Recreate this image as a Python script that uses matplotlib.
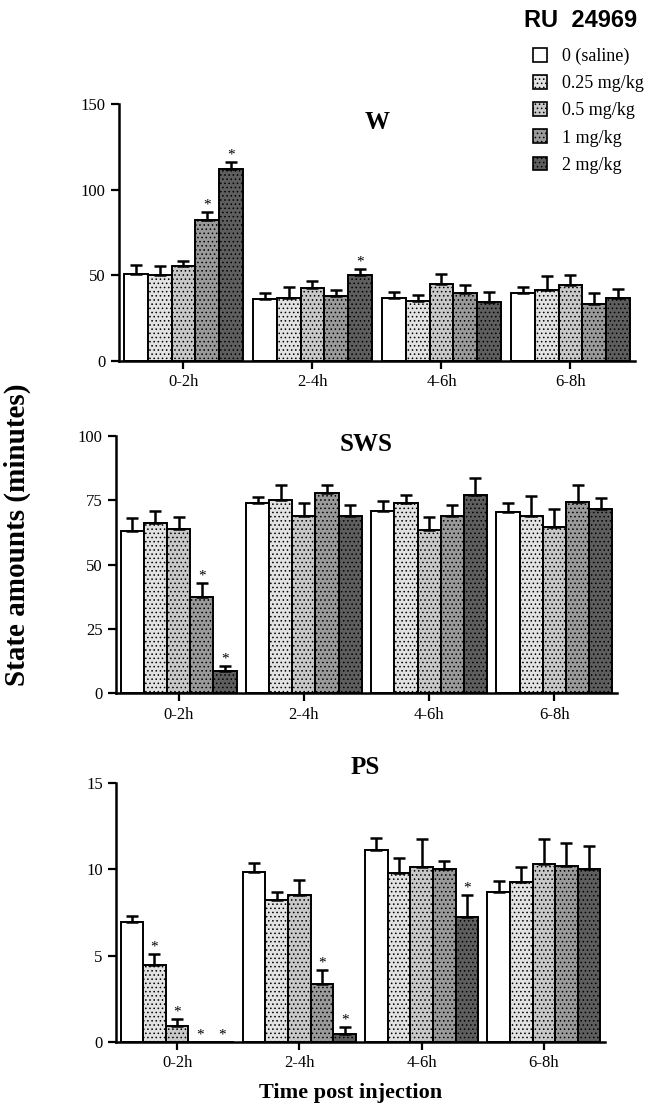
import numpy as np
import matplotlib
matplotlib.use("Agg")
import matplotlib.pyplot as plt
from matplotlib.patches import Patch

plt.rcParams["font.family"] = ["Liberation Serif", "DejaVu Serif"]
plt.rcParams["hatch.linewidth"] = 0.6

# Данные (минуты), порядок доз: 0, 0.25, 0.5, 1, 2 mg/kg
periods = ["0-2h", "2-4h", "4-6h", "6-8h"]
doses = ["0 (saline)", "0.25 mg/kg", "0.5 mg/kg", "1 mg/kg", "2 mg/kg"]

w_mean = [[51, 50, 55.5, 82.5, 112],
          [36, 37, 42.5, 38, 50],
          [37, 35, 45, 40, 34.5],
          [40, 41.5, 44.5, 33.5, 37]]
w_err = [[5, 5.5, 3, 4.5, 4],
         [3.8, 6, 4.5, 3.5, 4],
         [3.5, 3.7, 6, 4.5, 6],
         [3, 8, 6, 6, 5]]
w_sig = [[0, 0, 0, 1, 1], [0, 0, 0, 0, 1], [0, 0, 0, 0, 0], [0, 0, 0, 0, 0]]

sws_mean = [[63, 66, 64, 37.5, 8.5],
            [74, 75, 69, 78, 69],
            [71, 74, 63.5, 69, 77],
            [70.5, 69, 64.5, 74.5, 71.5]]
sws_err = [[5.3, 5, 4.5, 5.5, 2],
           [2.3, 6, 5, 2.8, 4],
           [3.6, 3.2, 5, 4, 6.5],
           [3.5, 7.5, 7, 6.5, 4.5]]
sws_sig = [[0, 0, 0, 1, 1], [0, 0, 0, 0, 0], [0, 0, 0, 0, 0], [0, 0, 0, 0, 0]]

ps_mean = [[6.95, 4.45, 0.95, 0, 0],
           [9.85, 8.25, 8.5, 3.35, 0.5],
           [11.1, 9.8, 10.15, 10, 7.25],
           [8.7, 9.25, 10.3, 10.2, 10.05]]
ps_err = [[0.35, 0.65, 0.4, 0, 0],
          [0.5, 0.45, 0.9, 0.85, 0.4],
          [0.7, 0.85, 1.6, 0.5, 1.25],
          [0.65, 0.9, 1.45, 1.35, 1.3]]
ps_sig = [[0, 1, 1, 1, 1], [0, 0, 0, 1, 1], [0, 0, 0, 0, 1], [0, 0, 0, 0, 0]]

colors = ["white", "#e2e2e2", "#c8c8c8", "#9a9a9a", "#5e5e5e"]
hatches = [None, "....", "....", "....", "...."]

fig = plt.figure(figsize=(6.52, 11.15), dpi=100)

panels = [
    ("W", w_mean, w_err, w_sig, [0.1825, 0.6762, 0.7914, 0.2305], 150, [0, 50, 100, 150], 0.93, 0.5),
    ("SWS", sws_mean, sws_err, sws_sig, [0.1779, 0.3782, 0.7684, 0.2308], 100, [0, 25, 50, 75, 100], 0.965, 0.5),
    ("PS", ps_mean, ps_err, ps_sig, [0.1779, 0.0652, 0.75, 0.2326], 15, [0, 5, 10, 15], 1.058, 0.51),
]

bw = 0.185
x = np.arange(len(periods))

for name, mean, err, sig, pos, ymax, yt, ty, tx in panels:
    ax = fig.add_axes(pos)
    mean = np.array(mean)
    err = np.array(err)
    for j in range(len(doses)):
        xs = x + (j - 2) * bw
        ax.bar(xs, mean[:, j], bw, color=colors[j], edgecolor="black",
               linewidth=1.4, hatch=hatches[j], zorder=2)
        ax.errorbar(xs, mean[:, j], yerr=[np.zeros(len(x)), err[:, j]], fmt="none",
                    ecolor="black", elinewidth=1.8, capsize=4, capthick=1.8, zorder=3)
        for i in range(len(x)):
            if sig[i][j]:
                ax.annotate("*", (xs[i], mean[i, j] + err[i, j]), xytext=(0, 5),
                            textcoords="offset points", ha="center", va="center",
                            fontsize=11)
    ax.set_xlim(-0.5, 3.5)
    ax.set_ylim(0, ymax)
    ax.set_yticks(yt)
    ax.set_xticks(x)
    ax.set_xticklabels(periods)
    for s in ["top", "right"]:
        ax.spines[s].set_visible(False)
    for s in ["left", "bottom"]:
        ax.spines[s].set_linewidth(1.8)
    ax.tick_params(axis="both", direction="out", length=6, width=1.6, labelsize=12)
    ax.text(tx, ty, name, transform=ax.transAxes, ha="center", va="center",
            fontsize=18, fontweight="bold")

fig.text(0.026, 0.52, "State amounts (minutes)", rotation=90, ha="center", va="center",
         fontsize=21, fontweight="bold")
fig.text(0.538, 0.0197, "Time post injection", ha="center", va="center",
         fontsize=16, fontweight="bold")
fig.text(0.89, 0.982, "RU  24969", ha="center", va="center", fontsize=17,
         fontweight="bold", family=["Liberation Sans", "DejaVu Sans"])

handles = [Patch(facecolor=colors[j], edgecolor="black", hatch=hatches[j], linewidth=1.2)
           for j in range(len(doses))]
fig.legend(handles, doses, loc="upper left", bbox_to_anchor=(0.8175, 0.957),
           frameon=False, fontsize=13, handlelength=0.8, handleheight=0.8,
           handletextpad=0.8, labelspacing=0.55, borderpad=0, borderaxespad=0)

plt.savefig("out.png", dpi=100)
